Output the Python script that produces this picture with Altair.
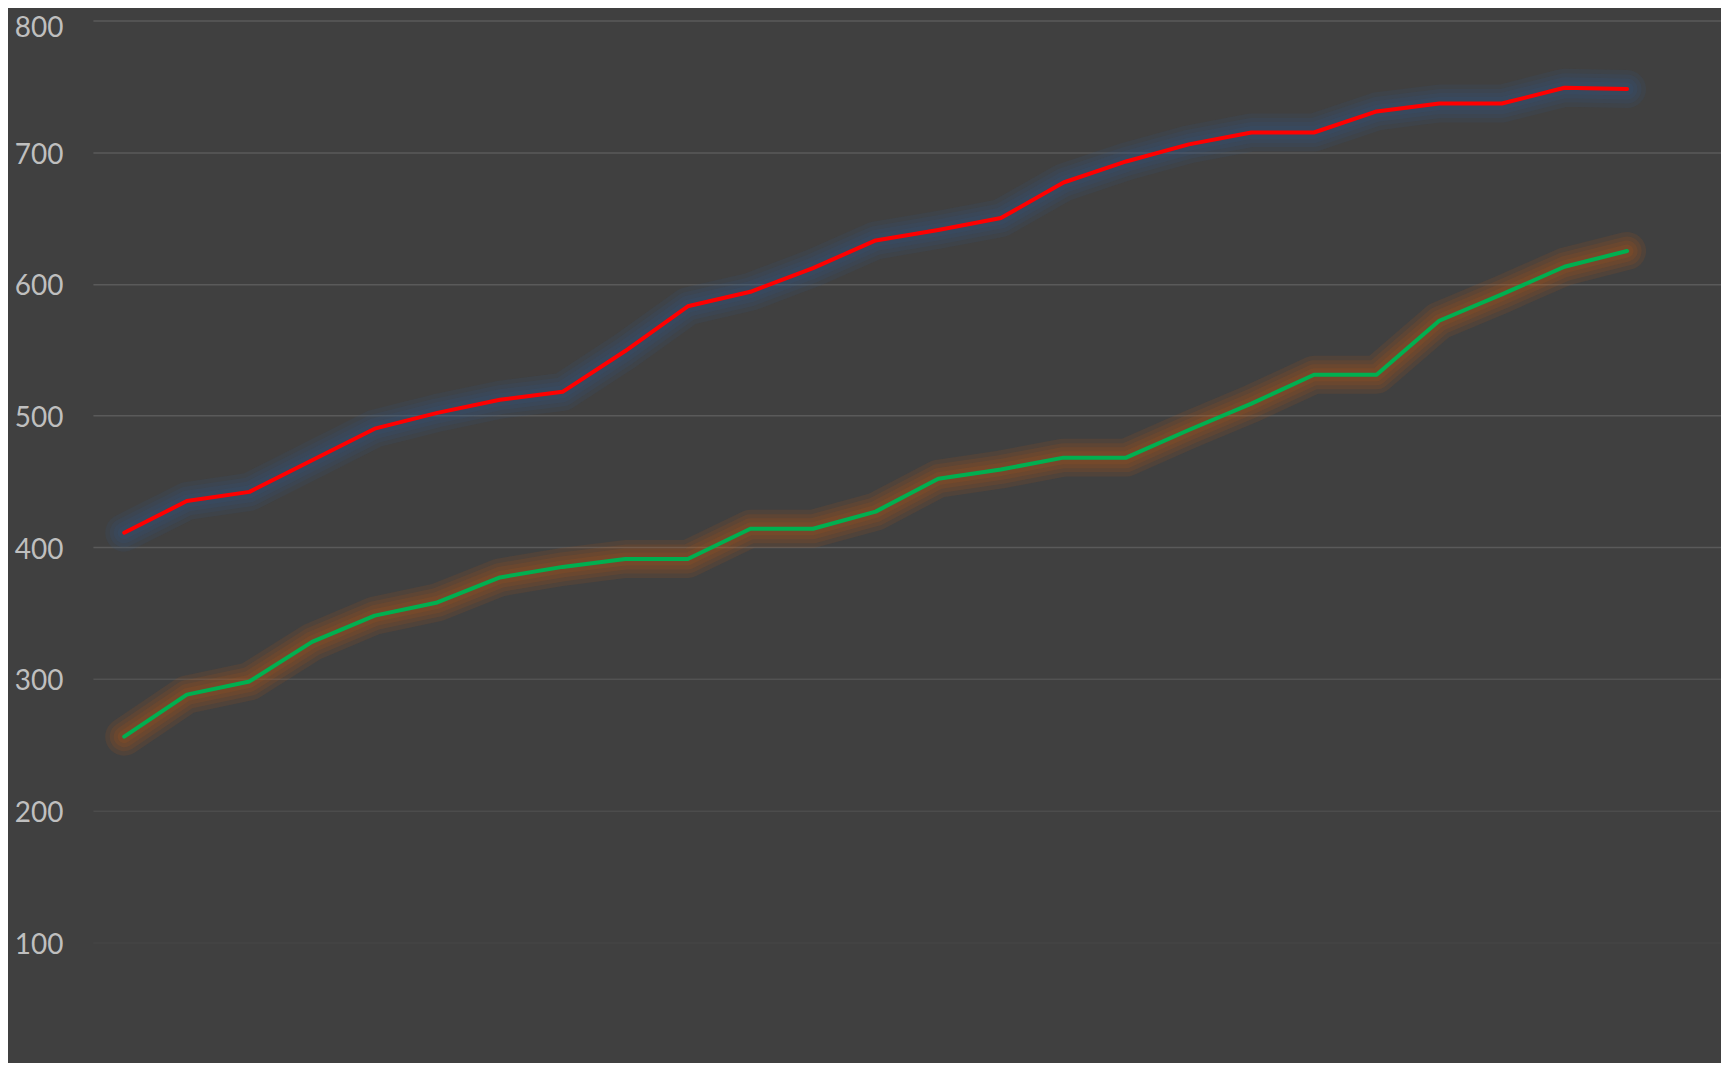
import altair as alt
import pandas as pd

# Data
periods = list(range(1, 26))
red_values = [411, 435, 442, 466, 490, 502, 512, 518, 549, 583, 594, 612, 633,
              641, 650, 677, 693, 706, 715, 715, 731, 737, 737, 749, 748]
green_values = [256, 288, 298, 328, 348, 358, 377, 385, 391, 391, 414, 414, 427,
                452, 459, 468, 468, 489, 509, 531, 531, 572, 592, 613, 625]
y_ticks = [100, 200, 300, 400, 500, 600, 700, 800]

df = pd.concat([
    pd.DataFrame({"period": periods, "value": red_values, "series": "Red"}),
    pd.DataFrame({"period": periods, "value": green_values, "series": "Green"}),
])

line_colors = alt.Scale(domain=["Red", "Green"], range=["#ff0000", "#00b050"])
glow_colors = alt.Scale(domain=["Red", "Green"], range=["#2f5d8c", "#c55a11"])

x_enc = alt.X("period:Q", scale=alt.Scale(domain=[0.5, 26.5], nice=False, zero=False), axis=None)
y_scale = alt.Scale(domain=[8.6, 800], nice=False, zero=False)

y_axis = alt.Axis(
    values=y_ticks,
    title=None,
    domain=False,
    ticks=False,
    labelPadding=30,
    labelFont="Lato",
    labelFontSize=28,
    labelColor="#bfbfbf",
    labelBaseline="middle",
    labelOffset={"condition": {"test": "datum.value >= 800", "value": 8}, "value": 3},
    grid=True,
    gridColor="#5a5a5a",
    gridWidth=1.5,
    gridOpacity={
        "condition": [
            {"test": "datum.value <= 100", "value": 0.2},
            {"test": "datum.value <= 200", "value": 0.45},
            {"test": "datum.value <= 300", "value": 0.7},
        ],
        "value": 1,
    },
)

y_enc = alt.Y("value:Q", scale=y_scale, axis=y_axis)

base = alt.Chart(df)

glow_layers = []
for w in [38, 29, 21, 13]:
    glow_layers.append(
        base.mark_line(strokeWidth=w, opacity=0.12, strokeCap="round", strokeJoin="round").encode(
            x=x_enc,
            y=y_enc,
            color=alt.Color("series:N", scale=glow_colors, legend=None),
        )
    )

main_line = base.mark_line(strokeWidth=4, strokeCap="round", strokeJoin="round").encode(
    x=x_enc,
    y=y_enc,
    color=alt.Color("series:N", scale=line_colors, legend=None),
)

chart = alt.layer(*glow_layers, main_line).resolve_scale(color="independent").properties(
    width=1630,
    height=1043,
    autosize=alt.AutoSizeParams(type="none"),
    padding={"left": 85, "top": 12, "right": 0, "bottom": 0},
    background="#404040",
).configure_view(stroke=None)

chart.save("out.html", embed_options={"renderer": "svg", "actions": False})
